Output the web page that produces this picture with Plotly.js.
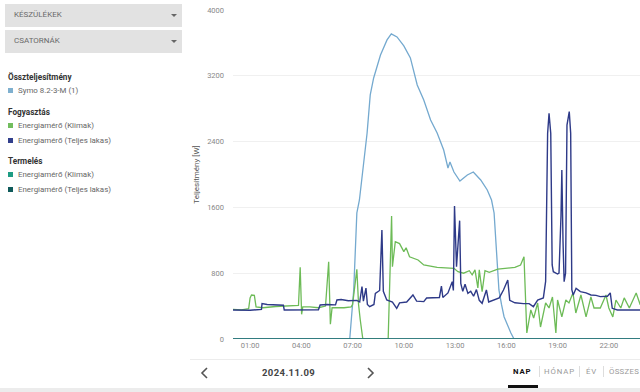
<!DOCTYPE html>
<html>
<head>
<meta charset="utf-8">
<script src="https://cdn.plot.ly/plotly-3.0.1.min.js"></script>
<style>
  html, body { margin:0; padding:0; }
  body { width:640px; height:392px; overflow:hidden; position:relative; background:#fff; font-family: Roboto, "Noto Sans", sans-serif; }
  .dd { position:absolute; left:5px; width:177px; height:23px; background:#e2e2e2; }
  .dd span { position:absolute; left:9px; top:6px; font-size:8px; color:#6a6a6a; letter-spacing:0px; }
  .dd i { position:absolute; left:166px; top:10px; width:0; height:0; border-left:3px solid transparent; border-right:3px solid transparent; border-top:3px solid #666; }
  .hd { position:absolute; left:8px; font-size:8.2px; font-weight:bold; color:#333; }
  .it { position:absolute; left:8px; font-size:7.9px; color:#666; white-space:nowrap; }
  .it b { display:inline-block; width:5px; height:5px; margin-right:5px; vertical-align:0px; }
  #plot { position:absolute; left:190px; top:0; width:460px; height:360px; }
  .nav { position:absolute; font-size:9.5px; font-weight:bold; color:#444; letter-spacing:0.4px; }
  .tab { position:absolute; top:367px; font-size:7.8px; letter-spacing:0.9px; color:#9a9a9a; }
  .sep { position:absolute; top:366px; width:1px; height:11px; background:#ddd; }
</style>
</head>
<body>
<div class="dd" style="top:4px"><span>KÉSZÜLÉKEK</span><i></i></div>
<div class="dd" style="top:30px"><span>CSATORNÁK</span><i></i></div>

<div class="hd" style="top:72px">Összteljesítmény</div>
<div class="it" style="top:86px"><b style="background:#7fb0cf"></b>Symo 8.2-3-M (1)</div>
<div class="hd" style="top:107px">Fogyasztás</div>
<div class="it" style="top:121px"><b style="background:#72bd5e"></b>Energiamérő (Klimak)</div>
<div class="it" style="top:136px"><b style="background:#323f8c"></b>Energiamérő (Teljes lakas)</div>
<div class="hd" style="top:156px">Termelés</div>
<div class="it" style="top:170px"><b style="background:#1e9c84"></b>Energiamérő (Klimak)</div>
<div class="it" style="top:185px"><b style="background:#0f5a5a"></b>Energiamérő (Teljes lakas)</div>

<div id="plot"></div>

<div style="position:absolute;left:190px;top:359px;width:450px;height:1px;background:#ececec"></div>
<div style="position:absolute;left:0;top:388px;width:640px;height:4px;background:#ececec"></div>

<svg style="position:absolute;left:200px;top:367px" width="10" height="12"><polyline points="7,1 2,6 7,11" fill="none" stroke="#555" stroke-width="1.6"/></svg>
<div class="nav" style="left:262px;top:367px">2024.11.09</div>
<svg style="position:absolute;left:366px;top:367px" width="10" height="12"><polyline points="2,1 7,6 2,11" fill="none" stroke="#555" stroke-width="1.6"/></svg>

<div class="tab" style="left:513px;color:#111;font-weight:bold">NAP</div>
<div style="position:absolute;left:508px;top:385px;width:30px;height:2.5px;background:#111"></div>
<div class="sep" style="left:539px"></div>
<div class="tab" style="left:544px">HÓNAP</div>
<div class="sep" style="left:579px"></div>
<div class="tab" style="left:586px">ÉV</div>
<div class="sep" style="left:603px"></div>
<div class="tab" style="left:609px;letter-spacing:0.3px">ÖSSZES</div>

<script>
// ---- data ----
const day = "2024-11-09";

const symoTimes = ["00:00","06:50","07:04","07:15","07:24","07:39","07:51","08:02","08:14","08:38","09:01","09:16","09:36","10:00","10:23","10:47","11:10","11:34","11:57","12:20","12:35","12:42","12:56","13:17","13:43","14:04","14:30","14:53","15:08","15:17","15:25","15:34","15:43","15:52","16:16","16:27","23:59"];
const symoValues = [0,0,596,1532,1690,2177,2505,2967,3174,3453,3636,3709,3672,3563,3417,3089,2906,2663,2505,2298,2079,2152,2030,1921,1994,2030,1933,1812,1690,1532,1050,596,420,271,73,0,0];

const klimaTimes = ["00:00","00:30","00:55","01:00","01:05","01:15","01:21","01:45","02:30","03:30","03:50","03:56","04:01","04:05","04:30","05:00","05:25","05:36","05:42","05:48","06:30","06:55","07:00","07:15","07:21","07:27","07:36","09:05","09:17","09:20","09:30","09:45","10:00","10:08","10:20","10:50","11:10","11:57","12:56","13:10","13:30","13:50","14:00","14:10","14:20","14:25","14:35","14:45","15:00","15:30","16:00","16:30","16:50","17:02","17:12","17:26","17:36","17:50","18:00","18:18","18:30","18:42","18:54","19:00","19:15","19:29","19:40","19:54","20:04","20:22","20:40","20:57","21:08","21:30","21:50","22:00","22:14","22:25","22:42","22:54","23:12","23:36","23:50","23:59"];
const klimaValues = [361,355,370,500,535,530,390,380,395,400,410,872,300,390,390,380,400,940,180,380,380,390,420,847,420,231,0,0,1496,879,1183,1160,1062,1110,1000,961,900,872,859,818,800,830,780,840,620,840,575,830,810,850,860,870,900,1001,73,353,255,438,146,438,377,511,73,474,268,474,438,559,316,535,268,511,377,377,535,377,268,474,377,500,377,559,420,410];

const lakasTimes = ["00:00","01:00","01:40","01:42","02:00","02:30","02:57","03:00","04:00","05:00","05:06","05:30","06:00","06:05","06:20","06:45","07:15","07:25","07:33","07:38","07:47","07:52","08:00","08:15","08:20","08:35","08:43","08:48","09:00","09:20","09:35","09:45","10:10","10:32","10:45","11:10","11:20","12:05","12:12","12:17","12:35","12:50","12:54","12:58","13:05","13:16","13:20","13:27","13:35","13:45","13:55","14:05","14:15","14:25","14:35","14:50","14:58","15:35","15:50","16:05","16:12","16:30","17:00","17:20","17:35","17:50","18:10","18:18","18:20","18:25","18:30","18:36","18:41","18:45","19:00","19:05","19:12","19:15","19:19","19:23","19:28","19:33","19:41","19:46","19:50","19:55","20:05","20:20","20:40","20:57","21:15","21:30","21:55","22:05","22:12","22:30","23:59"];
const lakasValues = [353,350,360,430,420,415,410,353,350,355,414,420,415,474,480,465,470,450,636,460,620,420,393,420,555,590,1325,580,474,450,373,440,450,535,460,455,498,505,644,505,560,697,590,1617,880,1439,677,580,665,555,580,520,600,470,434,596,450,500,596,717,470,440,430,430,393,474,500,700,1200,2500,2745,2500,900,818,790,800,1500,2055,1200,697,800,2600,2765,2500,600,535,616,576,560,535,530,515,520,560,373,353,353];

const prodTimes = ["00:00","23:59"];
const prodKlima = [0,0];
const prodLakas = [0,0];

const yTicks = [0,800,1600,2400,3200,4000];

// ---- build ----
const t = a => a.map(s => day + " " + s);
const traces = [
  {x:t(symoTimes), y:symoValues, name:"Symo 8.2-3-M (1)", line:{color:"#74a9cf", width:1.3}},
  {x:t(klimaTimes), y:klimaValues, name:"Energiamérő (Klimak)", line:{color:"#6dbb57", width:1.3}},
  {x:t(lakasTimes), y:lakasValues, name:"Energiamérő (Teljes lakas)", line:{color:"#2e3a88", width:1.4}},
  {x:t(prodTimes), y:prodKlima, name:"Energiamérő (Klimak)", line:{color:"#1e9c84", width:1.3}},
  {x:t(prodTimes), y:prodLakas, name:"Energiamérő (Teljes lakas)", line:{color:"#2f6f77", width:1.3}}
].map(tr => Object.assign({type:"scatter", mode:"lines", hoverinfo:"skip"}, tr));

const layout = {
  width:460, height:360,
  margin:{l:43, r:7, t:10, b:21},
  paper_bgcolor:"rgba(0,0,0,0)", plot_bgcolor:"rgba(0,0,0,0)",
  showlegend:false,
  font:{family:"Roboto, sans-serif", size:7.5, color:"#888"},
  xaxis:{type:"date", range:[day+" 00:00", "2024-11-10 00:00"], tick0:day+" 01:00", dtick:10800000,
         tickformat:"%H:%M", showgrid:false, zeroline:false, showline:false, ticks:"",
         tickfont:{size:7.5, color:"#888"}},
  yaxis:{range:[0,4000], tickvals:yTicks, ticktext:yTicks.map(String), showgrid:true, gridcolor:"#f0f0f0",
         zeroline:false, showline:false, ticks:"", ticklabelstandoff:8,
         tickfont:{size:7.5, color:"#888"},
         title:{text:"Teljesítmény [W]", font:{size:8, color:"#555"}, standoff:6}}
};
Plotly.newPlot("plot", traces, layout, {displayModeBar:false, staticPlot:true});
</script>
</body>
</html>
